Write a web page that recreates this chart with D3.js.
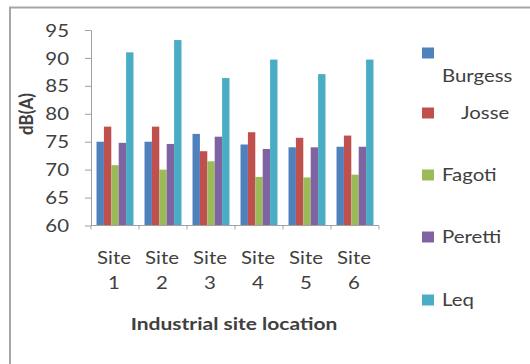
<!DOCTYPE html>
<html>
<head>
<meta charset="utf-8">
<script src="https://cdn.jsdelivr.net/npm/d3@7"></script>
<style>
  html, body { margin: 0; padding: 0; background: #fff; }
  svg { display: block; }
  text { font-family: Lato, "Open Sans", sans-serif; fill: #404040; }
</style>
</head>
<body>
<svg id="chart" width="530" height="364"></svg>
<script>
// Noise levels at each industrial site, dB(A)
const sites = ["Site 1", "Site 2", "Site 3", "Site 4", "Site 5", "Site 6"];
const seriesNames = ["Burgess", "Josse", "Fagoti", "Peretti", "Leq"];
const burgess = [75.0, 75.0, 76.4, 74.5, 74.0, 74.1];
const josse   = [77.7, 77.7, 73.3, 76.7, 75.7, 76.1];
const fagoti  = [70.8, 70.0, 71.5, 68.7, 68.6, 69.1];
const peretti = [74.8, 74.6, 75.9, 73.7, 74.0, 74.1];
const leq     = [91.0, 93.2, 86.4, 89.7, 87.1, 89.7];
const yTicks  = [60, 65, 70, 75, 80, 85, 90, 95];

const seriesValues = [burgess, josse, fagoti, peretti, leq];
const colors = ["#4F81BD", "#C0504D", "#9BBB59", "#8064A2", "#4BACC6"];

const svg = d3.select("#chart");
const sx = 1.2; // horizontal widening of labels

// chart frame
svg.append("rect")
  .attr("x", 10).attr("y", 7.5)
  .attr("width", 600).attr("height", 400)
  .attr("fill", "none").attr("stroke", "#a6a6a6").attr("stroke-width", 2);

const plot = { left: 91, right: 379, top: 30, bottom: 225.5 };

const x0 = d3.scaleBand().domain(sites)
  .range([plot.left, plot.right])
  .paddingInner(0.23).paddingOuter(0.115);
const x1 = d3.scaleBand().domain(seriesNames).range([0, x0.bandwidth()]);
const y = d3.scaleLinear().domain([60, 95]).range([plot.bottom, plot.top]);

// bars
const rows = sites.map((s, i) => ({ site: s, vals: seriesNames.map((n, k) => ({ name: n, v: seriesValues[k][i], c: colors[k] })) }));
svg.append("g").selectAll("g").data(rows).join("g")
  .attr("transform", d => `translate(${x0(d.site)},0)`)
  .selectAll("rect").data(d => d.vals).join("rect")
  .attr("x", d => x1(d.name))
  .attr("width", x1.bandwidth())
  .attr("y", d => y(d.v))
  .attr("height", d => y(60) - y(d.v))
  .attr("fill", d => d.c);

// y axis
const yAxis = svg.append("g")
  .attr("transform", `translate(${plot.left},0)`)
  .call(d3.axisLeft(y).tickValues(yTicks).tickSize(6).tickSizeOuter(0).tickPadding(0));
yAxis.select(".domain").attr("stroke", "#a0a0a0");
yAxis.selectAll(".tick line").attr("stroke", "#a0a0a0");
yAxis.selectAll(".tick text").remove();
yAxis.selectAll(".tick").append("text")
  .attr("transform", `translate(-22,0) scale(${sx},1)`)
  .attr("dy", "0.36em")
  .attr("text-anchor", "end")
  .attr("font-size", 17)
  .text(d => d);

// x axis
const xAxisG = svg.append("g").attr("transform", `translate(0,${plot.bottom})`);
xAxisG.append("line")
  .attr("x1", plot.left).attr("x2", plot.right)
  .attr("stroke", "#a0a0a0");
const step = x0.step();
xAxisG.selectAll("line.tk").data(d3.range(sites.length + 1)).join("line")
  .attr("class", "tk")
  .attr("x1", i => plot.left + i * step).attr("x2", i => plot.left + i * step)
  .attr("y1", 0).attr("y2", 4)
  .attr("stroke", "#a0a0a0");

const xl = svg.append("g").selectAll("text").data(sites).join("text")
  .attr("transform", d => `translate(${x0(d) + x0.bandwidth() / 2 - 1},264) scale(${sx},1)`)
  .attr("text-anchor", "middle")
  .attr("font-size", 17);
xl.append("tspan").attr("x", 0).attr("y", 0).text(d => d.split(" ")[0]);
xl.append("tspan").attr("x", 0).attr("y", 25).text(d => d.split(" ")[1]);

// axis titles
svg.append("text")
  .attr("transform", `translate(234,330) scale(${sx},1)`)
  .attr("text-anchor", "middle")
  .attr("font-size", 17.5).attr("font-weight", "bold")
  .attr("fill", "#262626")
  .text("Industrial site location");

svg.append("text")
  .attr("transform", "translate(33,114) rotate(-90) scale(1,1.15)")
  .attr("text-anchor", "middle")
  .attr("font-size", 17).attr("font-weight", "bold")
  .attr("fill", "#262626")
  .text("dB(A)");

// legend
const legendY = [53, 113, 175, 237, 300];
const legend = svg.append("g").selectAll("g").data(seriesNames).join("g")
  .attr("transform", (d, i) => `translate(422,${legendY[i]})`);
legend.append("rect")
  .attr("x", 0).attr("y", -5.5).attr("width", 12).attr("height", 11)
  .attr("fill", (d, i) => colors[i]);
legend.append("text")
  .attr("transform", (d, i) => {
    if (i === 0) return `translate(20,29) scale(${sx},1)`;
    if (i === 1) return `translate(39,6) scale(${sx},1)`;
    return `translate(20,6) scale(${sx},1)`;
  })
  .attr("font-size", 17)
  .text(d => d);
</script>
</body>
</html>
